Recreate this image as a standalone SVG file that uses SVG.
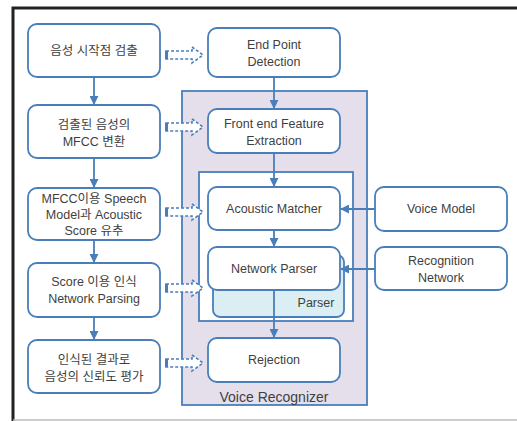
<svg xmlns="http://www.w3.org/2000/svg" width="517" height="421" viewBox="0 0 517 421">
<defs>
<style>
.box{fill:#fff;stroke:#4a7ebb;stroke-width:1.8}
.t{font-family:"Liberation Sans","Noto Sans CJK KR",sans-serif;font-size:12.5px;fill:#3f3f3f;text-anchor:middle}
.ln{stroke:#4a7ebb;stroke-width:1.8;fill:none}
.dash{fill:#fff;stroke:#4a7ebb;stroke-width:1.6;stroke-dasharray:3 2}
.tab{fill:#4a7ebb}
</style>
<marker id="ah" viewBox="0 0 10 10" refX="9" refY="5" markerWidth="5" markerHeight="5" orient="auto">
<path d="M0,0 L10,5 L0,10 z" fill="#4a7ebb"/>
</marker>
<path id="blk" d="M0,-4 L26,-4 L26,-8 L37,0 L26,8 L26,4 L0,4 z"/>
</defs>
<rect x="0" y="0" width="517" height="421" fill="#fff"/>
<!-- frame -->
<path d="M13,421 L13,8 L517,8" fill="none" stroke="#222" stroke-width="3"/>
<line x1="13" y1="420" x2="517" y2="420" stroke="#bbb" stroke-width="1.5"/>

<g id="voice-recognizer">
<rect x="182" y="91" width="185" height="314" fill="#e5dfec" stroke="#4a7ebb" stroke-width="1.8"/>
<text x="274" y="402" class="t" style="font-size:14px">Voice Recognizer</text>
</g>
<g id="inner-group">
<rect x="199" y="172" width="154" height="149" fill="#fff" stroke="#4a7ebb" stroke-width="1.8"/>
</g>
<g id="parser">
<rect x="213" y="255" width="131" height="62" rx="7" fill="#daeef3" stroke="#4a7ebb" stroke-width="1.8"/>
<text x="316" y="307" class="t">Parser</text>
</g>

<g id="n1"><rect class="box" x="28" y="24" width="132" height="53" rx="9"/><text class="t" x="94" y="55">음성 시작점 검출</text></g>
<g id="n2"><rect class="box" x="28" y="105" width="132" height="53" rx="9"/><text class="t" x="94" y="129">검출된 음성의</text><text class="t" x="94" y="146">MFCC 변환</text></g>
<g id="n3"><rect class="box" x="28" y="188" width="132" height="52" rx="9"/><text class="t" x="94" y="203">MFCC이용 Speech</text><text class="t" x="94" y="219">Model과 Acoustic</text><text class="t" x="94" y="235">Score 유추</text></g>
<g id="n4"><rect class="box" x="28" y="263" width="132" height="54" rx="9"/><text class="t" x="94" y="286">Score 이용 인식</text><text class="t" x="94" y="303">Network Parsing</text></g>
<g id="n5"><rect class="box" x="28" y="340" width="132" height="53" rx="9"/><text class="t" x="94" y="364">인식된 결과로</text><text class="t" x="94" y="381">음성의 신뢰도 평가</text></g>

<g id="m1"><rect class="box" x="208" y="28" width="132" height="49" rx="9"/><text class="t" x="274" y="49">End Point</text><text class="t" x="274" y="66">Detection</text></g>
<g id="m2"><rect class="box" x="208" y="109" width="132" height="44" rx="9"/><text class="t" x="274" y="128">Front end Feature</text><text class="t" x="274" y="145">Extraction</text></g>
<g id="m3"><rect class="box" x="208" y="187" width="132" height="43" rx="9"/><text class="t" x="274" y="213">Acoustic Matcher</text></g>
<g id="m4"><rect class="box" x="208" y="247" width="132" height="43" rx="9"/><text class="t" x="274" y="273">Network Parser</text></g>
<g id="m5"><rect class="box" x="208" y="338" width="132" height="44" rx="9"/><text class="t" x="274" y="364">Rejection</text></g>

<g id="r1"><rect class="box" x="375" y="187" width="132" height="44" rx="9"/><text class="t" x="441" y="213">Voice Model</text></g>
<g id="r2"><rect class="box" x="375" y="247" width="132" height="43" rx="9"/><text class="t" x="441" y="265">Recognition</text><text class="t" x="441" y="282">Network</text></g>

<g id="connectors">
<line class="ln" x1="94" y1="77" x2="94" y2="104" marker-end="url(#ah)"/>
<line class="ln" x1="94" y1="158" x2="94" y2="187" marker-end="url(#ah)"/>
<line class="ln" x1="94" y1="240" x2="94" y2="262" marker-end="url(#ah)"/>
<line class="ln" x1="94" y1="317" x2="94" y2="339" marker-end="url(#ah)"/>
<line class="ln" x1="274" y1="77" x2="274" y2="108" marker-end="url(#ah)"/>
<line class="ln" x1="274" y1="153" x2="274" y2="186" marker-end="url(#ah)"/>
<line class="ln" x1="274" y1="230" x2="274" y2="246" marker-end="url(#ah)"/>
<line class="ln" x1="274" y1="290" x2="274" y2="337" marker-end="url(#ah)"/>
<line class="ln" x1="375" y1="209" x2="341" y2="209" marker-end="url(#ah)"/>
<line class="ln" x1="375" y1="269" x2="341" y2="269" marker-end="url(#ah)"/>
<use href="#blk" class="dash" transform="translate(166,55)"/>
<use href="#blk" class="dash" transform="translate(166,127)"/>
<use href="#blk" class="dash" transform="translate(166,212)"/>
<use href="#blk" class="dash" transform="translate(166,288)"/>
<use href="#blk" class="dash" transform="translate(166,363)"/>
<rect class="tab" x="165" y="51" width="3" height="8"/>
<rect class="tab" x="165" y="123" width="3" height="8"/>
<rect class="tab" x="165" y="208" width="3" height="8"/>
<rect class="tab" x="165" y="284" width="3" height="8"/>
<rect class="tab" x="165" y="359" width="3" height="8"/>
</g>
</svg>
